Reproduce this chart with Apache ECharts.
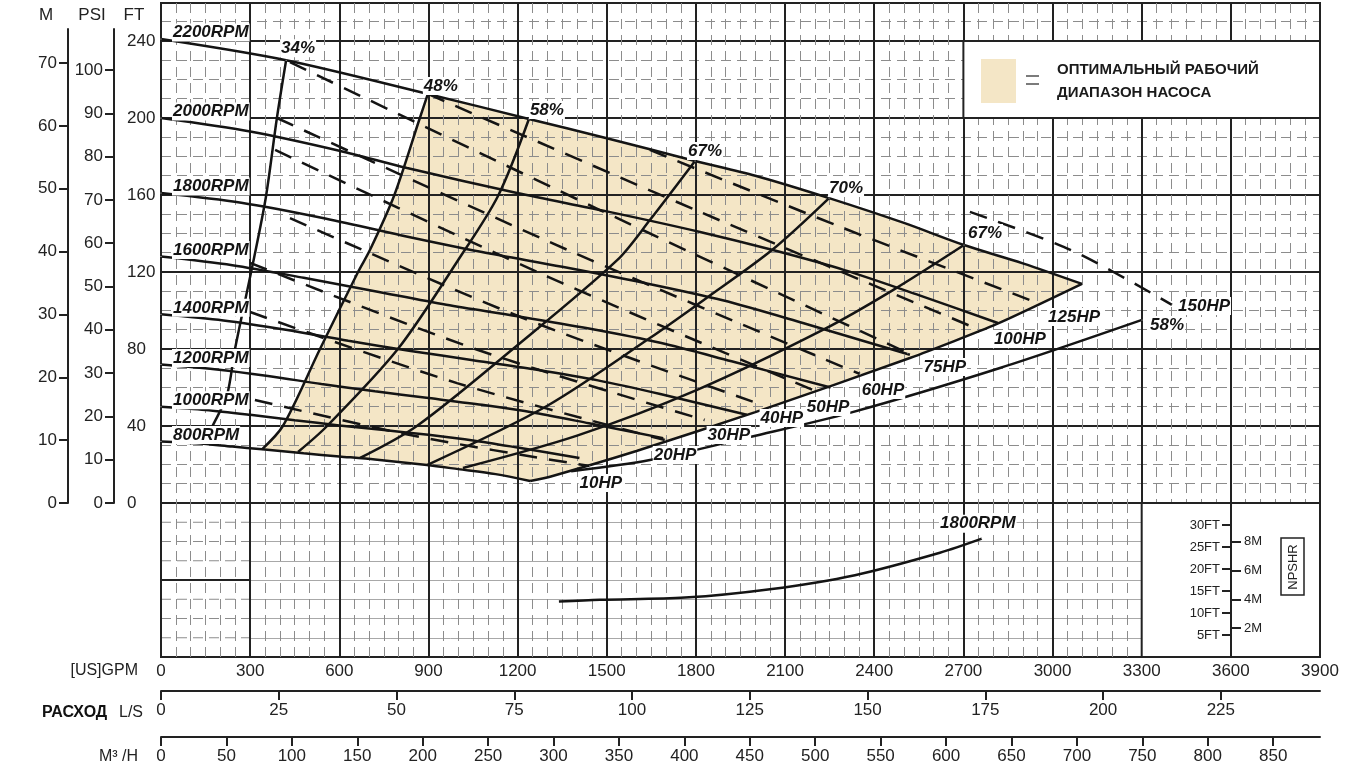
<!DOCTYPE html>
<html><head><meta charset="utf-8">
<script src="https://cdn.jsdelivr.net/npm/echarts@6/dist/echarts.min.js"></script>
<style>html,body{margin:0;padding:0;background:#fff}#c{width:1349px;height:778px}</style>
</head><body><div id="c"></div>
<script>
// ---------------- DATA (flow in US GPM, head in FT) ----------------
const gpmTicks = [0,300,600,900,1200,1500,1800,2100,2400,2700,3000,3300,3600,3900];
const ftTicks = [0,40,80,120,160,200,240];
const mTicks = [0,10,20,30,40,50,60,70];
const psiTicks = [0,10,20,30,40,50,60,70,80,90,100];
const lsTicks = [0,25,50,75,100,125,150,175,200,225];
const m3hTicks = [0,50,100,150,200,250,300,350,400,450,500,550,600,650,700,750,800,850];
const npshrFtTicks = [5,10,15,20,25,30];
const npshrMTicks = [2,4,6,8];

const rpmNames = ['2200RPM','2000RPM','1800RPM','1600RPM','1400RPM','1200RPM','1000RPM','800RPM'];
const rpm2200 = [[0,241],[421,230],[898,212.5],[1238,199.5],[1500,189.5],[1797,177.7],[2000,170],[2248,158.4],[2500,145.5],[2702,134],[2900,124.5],[3099,113.8]];
const rpm2000 = [[0,200],[300,193],[600,183],[828,174],[1198,161],[1500,151.5],[1814,140.8],[2059,131.4],[2300,121],[2550,108],[2816,93.5]];
const rpm1800 = [[0,161],[270,156],[540,148.2],[810,139],[1080,130.4],[1350,122.7],[1620,114.5],[1890,105.3],[2160,93.5],[2520,77]];
const rpm1600 = [[0,128],[240,123.5],[480,117],[720,110],[960,103],[1200,97],[1440,90.6],[1680,83.2],[1920,73.6],[2253,60]];
const rpm1400 = [[0,98],[210,94.8],[420,90],[630,84.3],[840,79],[1050,74.2],[1260,69.3],[1470,63.7],[1680,56.6],[1971,45.8]];
const rpm1200 = [[0,72],[180,69.5],[360,66],[540,61.8],[720,58],[900,54.5],[1080,51],[1260,46.8],[1440,41.4],[1690,33.7]];
const rpm1000 = [[0,50],[150,48.3],[300,45.8],[450,43],[600,40.3],[750,37.9],[900,35.4],[1050,32.5],[1200,28.8],[1408,23.4]];
const rpm800  = [[0,32],[120,31],[240,29.3],[340,27.9],[480,25.8],[600,24.2],[720,22.6],[895,19.7],[1000,17.6],[1126,15],[1242,11.4]];

const effNames = ['34%','48%','58%','67%','70%','67%','58%'];
const eff34  = [[421,230],[390,200],[353,159],[310,125],[249,80],[222,56],[175,40.5],[152,33.5]];
const eff48  = [[898,212.5],[871,200],[784,159.5],[703,131.4],[663,120],[535,80],[410,40],[340,27.9]];
const eff58a = [[1238,199.5],[1134,159.5],[999,126],[797,80],[559,40],[461,26.5]];
const eff67a = [[1797,177.7],[1645,147],[1534,126],[1184,80],[861,40],[670,23.4]];
const eff70  = [[2248,158.4],[2056,131.4],[1840,107],[1645,85.7],[1300,50.5],[895,19.7]];
const eff67b = [[2702,134],[2463,110.6],[2227,89.9],[1800,58.5],[1400,35],[1016,18.2]];
const eff58b = [[3301,95.1],[2823,70.1],[2318,46.8],[1982,34.3],[1645,22.3],[1380,16.5]];

const maxFlowLine = [[1242,11.4],[1312,13.8],[1600,27],[2000,47.2],[2520,75.3],[2813,93],[3099,113.8]];

const hpNames = ['10HP','20HP','30HP','40HP','50HP','60HP','75HP','100HP','125HP','150HP'];
const hp10  = [[316,53.5],[871,34.3],[1443,19.2]];
const hp20  = [[300,99.2],[996,62.3],[1696,32.7]];
const hp30  = [[300,124.7],[1067,79.5],[1830,43.1]];
const hp40  = [[434,148],[1218,96.1],[2005,51.9]];
const hp50  = [[384,183.4],[1289,118.4],[2194,58.7]];
const hp60  = [[390,200],[1369,131.4],[2352,67]];
const hp75  = [[434,229],[1477,152.2],[2513,77.9]];
const hp100 = [[898,212.5],[1814,151.2],[2732,91.4]];
const hp125 = [[1645,183.4],[2295,142.9],[2941,104.4]];
const hp150 = [[2722,151.2],[3062,131.4],[3402,102.9]];

const npshr1800 = [[1339,12.6],[1477,13],[1763,13.5],[2049,15.4],[2335,18.6],[2621,23.7],[2762,26.9]];
const npshrName = '1800RPM';

// ---------------- LAYOUT / STYLE ----------------
const FONT = '"Liberation Sans", Arial, Helvetica, sans-serif';
const INK = '#141414';
const SHADE = '#f4e6c6';
const GPM_PER_LS = 15.8503, GPM_PER_M3H = 4.40287, FT_PER_M = 3.2808;
const Y_MAX = 259.74;          // head range of upper panel
const NPSHR_MAX = 35;          // ft range of lower panel
const LEGEND_BOX = [[2700,240],[3900,200]];
const NPSHR_BOX = [[3300,NPSHR_MAX],[3900,0]];
const LOWER_DIVIDER = [[0,17.5],[300,17.5]];
const FIRST_COL = {x0:0, x1:300, rows:[1,2,3,5,6,7]};   // dashed rows in the lower-left cell (hidden 0-8 axis units)
const L = {
  rpmLabel: [11, -6.5],
  effLabel: [[12,-12],[13,-8],[18,-9],[10,-10],[17,-10],[21,-12],[25,5]],
  hpLabel: [[11,17],[10,15],[24,15],[25,15],[15,17],[23,16],[37,14],[47,12],[39,15],[32,1]],
  npshrLabel: [-4,-15]
};
const rpmCurves = [rpm2200,rpm2000,rpm1800,rpm1600,rpm1400,rpm1200,rpm1000,rpm800];
const effCurves = [eff34,eff48,eff58a,eff67a,eff70,eff67b,eff58b];
const hpCurves = [hp10,hp20,hp30,hp40,hp50,hp60,hp75,hp100,hp125,hp150];

// shaded optimal range polygon built from the bounding curves
const optimalRange = [].concat(
  eff48,
  rpm800.filter(p => p[0] > 340),
  maxFlowLine.filter(p => p[0] > 1242),
  rpm2200.filter(p => p[0] > 898 && p[0] < 3099).slice().reverse()
);

const curveLabel = {show:true, color:INK, fontFamily:FONT, fontSize:17, fontWeight:'bold', fontStyle:'italic',
  backgroundColor:'#fff', padding:[1,1,0,1], position:'inside', formatter:'{b}', textBorderWidth:0, opacity:1};
const dark = {color:'#222', width:2};
const minorDash = {color:'#8c8c8c', width:1, type:[10,6]};

function lineSeries(data, dashed, extra) {
  return Object.assign({type:'line', xAxisIndex:0, yAxisIndex:1, data, smooth:0.3, symbol:'none', silent:true, z:4,
    lineStyle:{color:INK, width:2.5, type: dashed ? [18,12] : 'solid'}}, extra || {});
}
function boxSeries(xi, yi, box, z) {
  return {type:'custom', xAxisIndex:xi, yAxisIndex:yi, z, silent:true, data:[0], clip:false,
    renderItem:(p, api) => { const a = api.coord(box[0]), b = api.coord(box[1]);
      return {type:'rect', shape:{x:a[0], y:a[1], width:b[0]-a[0], height:b[1]-a[1]}, style:{fill:'#fff', stroke:'#222', lineWidth:2}}; }};
}

const series = [];
series.push({type:'custom', xAxisIndex:0, yAxisIndex:1, z:1, silent:true, data:[0],
  renderItem:(params, api) => ({type:'polygon', shape:{points: optimalRange.map(p => api.coord(p))}, style:{fill:SHADE}})});
rpmCurves.forEach(c => series.push(lineSeries(c, false)));
effCurves.forEach(c => series.push(lineSeries(c, false)));
series.push(lineSeries(maxFlowLine, false, {smooth:0.2}));
hpCurves.forEach(c => series.push(lineSeries(c, true)));

const labelData = [];
rpmCurves.forEach((c,i) => labelData.push({name:rpmNames[i], value:c[0], label:{align:'left', offset:L.rpmLabel}}));
effCurves.forEach((c,i) => labelData.push({name:effNames[i], value:c[0], label:{align:'center', offset:L.effLabel[i]}}));
hpCurves.forEach((c,i) => labelData.push({name:hpNames[i], value:c[c.length-1], label:{align:'center', offset:L.hpLabel[i]}}));
series.push({type:'scatter', xAxisIndex:0, yAxisIndex:1, z:6, silent:true, symbolSize:1, itemStyle:{color:'#fff', opacity:1},
  label:Object.assign({}, curveLabel, {verticalAlign:'middle'}), data:labelData});

// legend panel and NPSHR scale panel (white boxes)
series.push(boxSeries(0, 1, LEGEND_BOX, 4.5));
series.push(boxSeries(1, 3, NPSHR_BOX, 4.5));

// lower-left cell: dashed grid like the upper panel, with a dark divider
series.push({type:'custom', xAxisIndex:1, yAxisIndex:2, z:2.5, silent:true, data:[0],
  renderItem:(p, api) => {
    const a = api.coord([FIRST_COL.x0, 8]), b = api.coord([FIRST_COL.x1, 0]);
    const kids = [{type:'rect', shape:{x:a[0]+1, y:a[1]+1, width:b[0]-a[0]-2, height:b[1]-a[1]-2}, style:{fill:'#fff'}}];
    FIRST_COL.rows.forEach(r => { const s = api.coord([FIRST_COL.x0, r]), e = api.coord([FIRST_COL.x1, r]);
      kids.push({type:'line', shape:{x1:s[0], y1:s[1], x2:e[0], y2:e[1]}, style:{stroke:minorDash.color, lineWidth:1, lineDash:minorDash.type}}); });
    return {type:'group', children:kids};
  }});
series.push({type:'line', xAxisIndex:1, yAxisIndex:3, data:LOWER_DIVIDER, symbol:'none', silent:true, z:3.5,
  lineStyle:{color:'#222', width:2}});

// lower panel: NPSHR
series.push({type:'line', xAxisIndex:1, yAxisIndex:3, data:npshr1800, smooth:0.3, symbol:'none', silent:true, z:4,
  lineStyle:{color:INK, width:2.5}});
series.push({type:'scatter', xAxisIndex:1, yAxisIndex:3, z:6, silent:true, symbolSize:1, itemStyle:{color:'#fff'},
  label:Object.assign({}, curveLabel, {verticalAlign:'middle', align:'center', offset:L.npshrLabel}),
  data:[{name:npshrName, value:npshr1800[npshr1800.length-1]}]});

const axisText = {color:'#222', fontFamily:FONT, fontSize:17};
const hidden = {axisLine:{show:false}, axisTick:{show:false}, axisLabel:{show:false}, splitLine:{show:false}};
const plain = v => String(v);
const gridBase = {containLabel:false, outerBoundsMode:'none'};

const option = {
  animation:false,
  textStyle:{fontFamily:FONT},
  grid:[
    Object.assign({left:161, right:29, top:3, height:500, show:true, borderColor:'#222', borderWidth:2, z:3}, gridBase),
    Object.assign({left:161, right:29, top:503, height:154, show:true, borderColor:'#222', borderWidth:2, z:3}, gridBase),
    Object.assign({left:114, top:29, height:474, width:20}, gridBase),
    Object.assign({left:161, right:29, top:690, height:1}, gridBase),
    Object.assign({left:161, right:29, top:736, height:1}, gridBase)
  ],
  xAxis:[
    {gridIndex:0, type:'value', min:0, max:3900, interval:300, z:3, axisLine:{show:false}, axisTick:{show:false}, axisLabel:{show:false},
      splitLine:{show:true, lineStyle:dark}, minorTick:{show:false, splitNumber:6}, minorSplitLine:{show:true, lineStyle:minorDash}},
    {gridIndex:1, type:'value', min:0, max:3900, interval:300, z:3, position:'bottom', axisLine:{show:false}, axisTick:{show:false},
      axisLabel:Object.assign({margin:6, customValues:gpmTicks, formatter:plain}, axisText),
      splitLine:{show:true, lineStyle:dark}, minorTick:{show:false, splitNumber:6}, minorSplitLine:{show:true, lineStyle:minorDash}},
    Object.assign({gridIndex:2, type:'value', min:0, max:1}, hidden),
    {gridIndex:3, type:'value', min:0, max:3900/GPM_PER_LS, position:'bottom', splitLine:{show:false},
      axisLine:{show:true, lineStyle:dark}, axisTick:{show:true, length:9, lineStyle:dark, customValues:lsTicks},
      axisLabel:Object.assign({margin:11, customValues:lsTicks, formatter:plain}, axisText)},
    {gridIndex:4, type:'value', min:0, max:3900/GPM_PER_M3H, position:'bottom', splitLine:{show:false},
      axisLine:{show:true, lineStyle:dark}, axisTick:{show:true, length:9, lineStyle:dark, customValues:m3hTicks},
      axisLabel:Object.assign({margin:11, customValues:m3hTicks, formatter:plain}, axisText)}
  ],
  yAxis:[
    {gridIndex:0, type:'value', min:0, max:Y_MAX, interval:10, z:2, position:'left', axisLine:{show:false}, axisTick:{show:false}, axisLabel:{show:false},
      splitLine:{show:true, lineStyle:minorDash}},
    {gridIndex:0, type:'value', min:0, max:Y_MAX, interval:40, z:3, position:'left', offset:0, axisLine:{show:false}, axisTick:{show:false},
      axisLabel:Object.assign({margin:34, align:'left', customValues:ftTicks, formatter:plain}, axisText),
      splitLine:{show:true, lineStyle:dark}},
    {gridIndex:1, type:'value', min:0, max:8, interval:1, z:2, position:'left', axisLine:{show:false}, axisTick:{show:false}, axisLabel:{show:false},
      splitLine:{show:true, lineStyle:{color:'#a8a8a8', width:1}}},
    {gridIndex:1, type:'value', min:0, max:NPSHR_MAX, position:'right', offset:-89, z:5, splitLine:{show:false},
      axisLine:{show:true, lineStyle:dark}, axisTick:{show:true, inside:true, length:9, lineStyle:dark, customValues:npshrFtTicks},
      axisLabel:{inside:true, margin:11, customValues:npshrFtTicks, formatter:v => v + 'FT', color:'#222', fontFamily:FONT, fontSize:13}},
    {gridIndex:1, type:'value', min:0, max:NPSHR_MAX/FT_PER_M, position:'right', offset:-89, z:5, splitLine:{show:false},
      axisLine:{show:false}, axisTick:{show:true, length:10, lineStyle:dark, customValues:npshrMTicks},
      axisLabel:{margin:13, customValues:npshrMTicks, formatter:v => v + 'M', color:'#222', fontFamily:FONT, fontSize:13}},
    {gridIndex:2, type:'value', min:0, max:109.47, position:'left', offset:0, splitLine:{show:false},
      axisLine:{show:true, lineStyle:dark}, axisTick:{show:true, length:9, lineStyle:dark, customValues:psiTicks},
      axisLabel:Object.assign({margin:11, customValues:psiTicks, formatter:plain}, axisText)},
    {gridIndex:2, type:'value', min:0, max:75.41, position:'left', offset:46, splitLine:{show:false},
      axisLine:{show:true, lineStyle:dark}, axisTick:{show:true, length:9, lineStyle:dark, customValues:mTicks},
      axisLabel:Object.assign({margin:11, customValues:mTicks, formatter:plain}, axisText)},
    Object.assign({gridIndex:3, type:'value', min:0, max:1}, hidden),
    Object.assign({gridIndex:4, type:'value', min:0, max:1}, hidden)
  ],
  graphic:[
    {type:'text', x:46, y:15, style:{text:'M', font:'17px '+FONT, fill:'#222', align:'center', verticalAlign:'middle'}},
    {type:'text', x:92, y:15, style:{text:'PSI', font:'17px '+FONT, fill:'#222', align:'center', verticalAlign:'middle'}},
    {type:'text', x:134, y:15, style:{text:'FT', font:'17px '+FONT, fill:'#222', align:'center', verticalAlign:'middle'}},
    {type:'text', x:138, y:671, style:{text:'[US]GPM', font:'16px '+FONT, fill:'#222', align:'right', verticalAlign:'middle'}},
    {type:'text', x:42, y:713, style:{text:'РАСХОД', font:'bold 16px '+FONT, fill:'#111', align:'left', verticalAlign:'middle'}},
    {type:'text', x:119, y:713, style:{text:'L/S', font:'16px '+FONT, fill:'#222', align:'left', verticalAlign:'middle'}},
    {type:'text', x:138, y:757, style:{text:'M³ /H', font:'16px '+FONT, fill:'#222', align:'right', verticalAlign:'middle'}},
    {type:'rect', z:10, shape:{x:981, y:59, width:35, height:44}, style:{fill:SHADE}},
    {type:'line', z:10, shape:{x1:1026, y1:76, x2:1039, y2:76}, style:{stroke:'#222', lineWidth:1.2}},
    {type:'line', z:10, shape:{x1:1026, y1:84, x2:1039, y2:84}, style:{stroke:'#222', lineWidth:1.2}},
    {type:'text', z:10, x:1057, y:70, style:{text:'ОПТИМАЛЬНЫЙ РАБОЧИЙ', font:'bold 15px '+FONT, fill:'#1a1a1a', align:'left', verticalAlign:'middle'}},
    {type:'text', z:10, x:1057, y:93, style:{text:'ДИАПАЗОН НАСОСА', font:'bold 15px '+FONT, fill:'#1a1a1a', align:'left', verticalAlign:'middle'}},
    {type:'rect', z:10, shape:{x:1281, y:538, width:23, height:57}, style:{fill:'#fff', stroke:'#222', lineWidth:1.5}},
    {type:'text', z:11, x:1293, y:567, rotation:Math.PI/2, style:{text:'NPSHR', font:'13px '+FONT, fill:'#222', align:'center', verticalAlign:'middle'}}
  ],
  series
};
const chart = echarts.init(document.getElementById('c'), null, {renderer:'canvas'});
chart.setOption(option);
</script></body></html>
